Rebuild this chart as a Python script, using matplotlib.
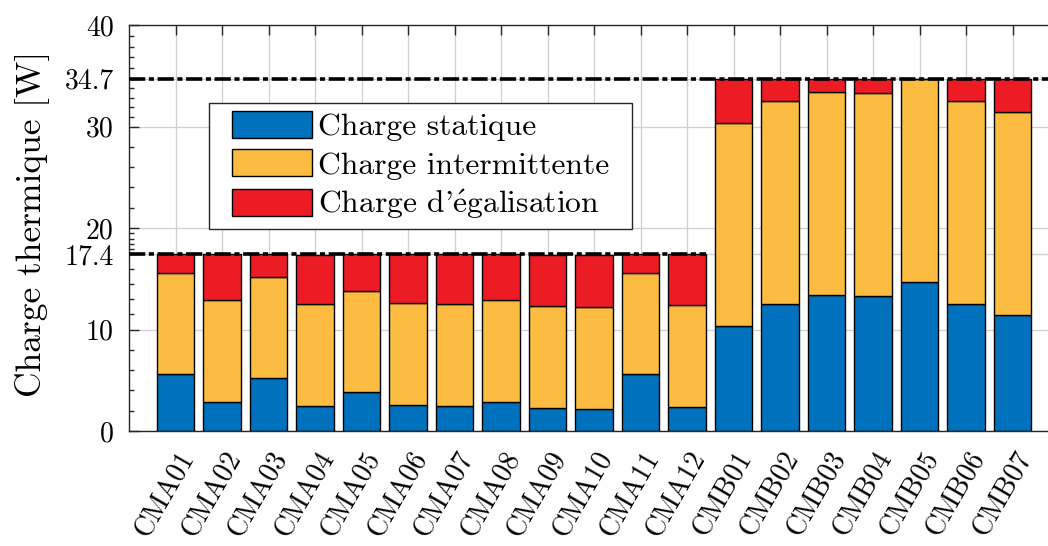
import numpy as np
import matplotlib
matplotlib.use('Agg')
import matplotlib.pyplot as plt
import matplotlib.transforms as mtransforms
from matplotlib.patches import Rectangle

# Thermal loads per compressor (W)
categories = ['CMA01', 'CMA02', 'CMA03', 'CMA04', 'CMA05', 'CMA06', 'CMA07',
              'CMA08', 'CMA09', 'CMA10', 'CMA11', 'CMA12',
              'CMB01', 'CMB02', 'CMB03', 'CMB04', 'CMB05', 'CMB06', 'CMB07']
charge_statique = [5.6, 2.9, 5.2, 2.5, 3.8, 2.6, 2.5, 2.9, 2.3, 2.2, 5.6, 2.4,
                   10.3, 12.5, 13.4, 13.3, 14.7, 12.5, 11.4]
charge_intermittente = [10, 10, 10, 10, 10, 10, 10, 10, 10, 10, 10, 10,
                        20, 20, 20, 20, 20, 20, 20]
charge_egalisation = [1.8, 4.5, 2.2, 4.8, 3.6, 4.8, 4.9, 4.5, 5.0, 5.1, 1.8, 5.0,
                      4.4, 2.2, 1.3, 1.4, 0.0, 2.2, 3.3]
series_labels = ['Charge statique', 'Charge intermittente',
                 "Charge d'" + r'$\mathrm{\acute{e}}$' + 'galisation']

# Maximum load of each group and the last compressor it covers
seuils = [17.4, 34.7]
seuil_last = ['CMA12', 'CMB07']

y_ticks = [0, 10, 17.4, 20, 30, 34.7, 40]
y_ticklabels = ['0', '10', '17.4', '20', '30', '34.7', '40']

COLORS = ['#0072BD', '#FCBC42', '#ED1C24']
AXIS_COLOR = '#262626'
TICK_FONTSIZE = 20

plt.rcParams['font.family'] = 'cmr10'
plt.rcParams['mathtext.fontset'] = 'cm'
plt.rcParams['axes.formatter.use_mathtext'] = True

fig = plt.figure(figsize=(10.48, 5.46), dpi=100)
# The plot box runs a little past the right edge of the figure.
ax = fig.add_axes([129 / 1048, 115 / 546, 930 / 1048, 406 / 546])

x = np.arange(1, len(categories) + 1)
bar_width = 0.8
bottoms = np.zeros(len(x))
handles = []
for values, color in zip([charge_statique, charge_intermittente, charge_egalisation], COLORS):
    values = np.array(values, dtype=float)
    h = ax.bar(x, values, bar_width, bottom=bottoms, color=color,
               edgecolor='black', linewidth=1.0, zorder=2)
    handles.append(h)
    bottoms += values

ax.set_xlim(0, len(categories) + 1)
ax.set_ylim(0, 40)

# Dash-dot lines at the maximum of each group.
for level, last in zip(seuils, seuil_last):
    x_end = categories.index(last) + 1 + bar_width / 2
    if last == categories[-1]:
        x_end = len(categories) + 1
    ax.plot([0, x_end], [level, level], color='black', linewidth=2.6,
            linestyle=(0, (4.5, 1.0, 1.4, 1.0)), zorder=4, clip_on=False)

# Tick styling first, so the labels set below keep their size.
ax.tick_params(which='both', direction='in', top=True, right=True,
               color=AXIS_COLOR, width=1.0, labelcolor='black',
               labelsize=TICK_FONTSIZE)
ax.tick_params(which='major', length=7)
ax.tick_params(which='minor', length=3.6)
ax.tick_params(axis='y', pad=11)
ax.tick_params(axis='x', pad=6)

ax.set_xticks(x)
ax.set_xticklabels(categories, rotation=60, ha='right', va='top',
                   rotation_mode='anchor', fontsize=TICK_FONTSIZE)
# Push the rotated labels a bit further below the axis.
shift = mtransforms.ScaledTranslation(0.02, -0.08, fig.dpi_scale_trans)
for label in ax.get_xticklabels():
    label.set_transform(label.get_transform() + shift)

ax.set_yticks(y_ticks)
ax.set_yticklabels(y_ticklabels, fontsize=TICK_FONTSIZE)
# 5 minor subdivisions between each pair of major ticks.
minor = []
for lo, hi in zip(y_ticks[:-1], y_ticks[1:]):
    minor.extend(np.linspace(lo, hi, 6)[1:-1])
ax.set_yticks(minor, minor=True)

for spine in ax.spines.values():
    spine.set_color(AXIS_COLOR)
    spine.set_linewidth(1.0)

ax.grid(True, which='major', color='#cfcfcf', linewidth=0.9)
ax.set_axisbelow(True)

ax.set_ylabel('Charge thermique [W]', fontsize=25.5)
ax.yaxis.set_label_coords(-0.085, 0.51)

leg = ax.legend(handles, series_labels, loc='upper left',
                bbox_to_anchor=(0.1022, 0.808), borderaxespad=0,
                fontsize=22.7, frameon=False, handlelength=2.54,
                handleheight=0.95, handletextpad=0.2, labelspacing=0.25,
                borderpad=0.25)
for patch in leg.get_patches():
    patch.set_edgecolor('black')
    patch.set_linewidth(1.0)

# MATLAB-like frame: wider horizontal padding than vertical.
fig.canvas.draw()
bb = leg.get_window_extent()
inv = fig.transFigure.inverted()
(x0, y0), (x1, y1) = inv.transform([[bb.x0 - 15, bb.y0], [bb.x1 + 15, bb.y1]])
frame = Rectangle((x0, y0), x1 - x0, y1 - y0, transform=fig.transFigure,
                  facecolor='white', edgecolor=AXIS_COLOR, linewidth=1.0, zorder=5)
fig.add_artist(frame)
leg.set_zorder(6)
fig.add_artist(leg)

fig.savefig('out.png', dpi=100)
